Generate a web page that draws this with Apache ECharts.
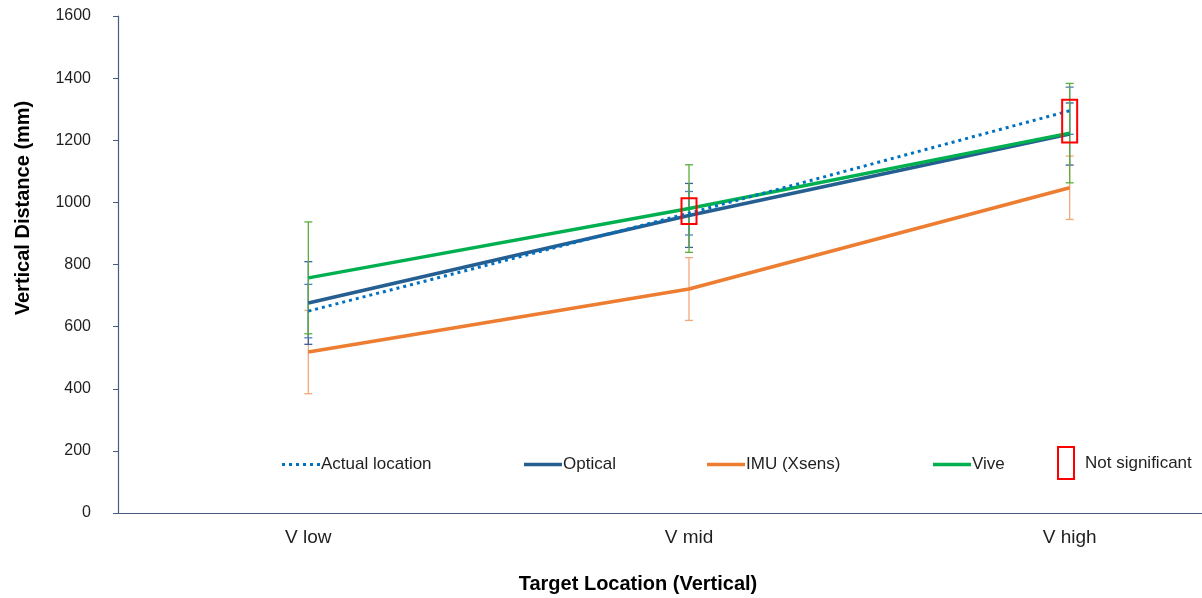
<!DOCTYPE html>
<html>
<head>
<meta charset="utf-8">
<script src="https://cdn.jsdelivr.net/npm/echarts@6/dist/echarts.min.js"></script>
<style>
  html, body { margin: 0; padding: 0; background: #fff; }
  #chart { width: 1202px; height: 598px; }
</style>
</head>
<body>
<div id="chart"></div>
<script>
// Target locations on the x axis
const categories = ['V low', 'V mid', 'V high'];

// Mean vertical distance (mm) per measurement system
const actualLocation = [650, 965, 1295];
const optical = [676, 958, 1220];
const imuXsens = [518, 721, 1047];
const vive = [757, 980, 1223];

// Standard deviation (mm) used for the error bars
const actualSD = [86, 70, 76];
const opticalSD = [133, 103, 100];
const imuSD = [134, 101, 102];
const viveSD = [180, 141, 160];

// Ranges marked as not significant: [category index, low, high]
const notSignificant = [[1, 930, 1013], [2, 1193, 1330]];

// Y axis ticks
const yMin = 0, yMax = 1600, yStep = 200;

const FONT = '"Liberation Sans", Arial, sans-serif';
const AXIS_COLOR = '#4a5b80';
const TEXT_COLOR = '#1f1f1f';

const COLORS = {
  actual: '#0070c0',
  optical: '#255e91',
  imu: '#ed7d31',
  vive: '#00b050'
};
const ERR_COLORS = {
  actual: '#4f7fc0',
  optical: '#3f5f96',
  imu: '#f4a77a',
  vive: '#5aae3c'
};

// Legend swatches: a solid bar and a row of dots
const SOLID_ICON = 'path://M0,0H38V4H0Z';
const DOTTED_ICON = 'path://M0,0h3v3h-3zM7,0h3v3h-3zM14,0h3v3h-3zM21,0h3v3h-3zM28,0h3v3h-3zM35,0h3v3h-3z';

function errorBars(id, means, sds, color, z) {
  return {
    type: 'custom',
    id: id,
    z: z,
    silent: true,
    data: means.map((m, i) => [i, m - sds[i], m + sds[i]]),
    encode: { x: 0, y: [1, 2] },
    renderItem(params, api) {
      const lo = api.coord([api.value(0), api.value(1)]);
      const hi = api.coord([api.value(0), api.value(2)]);
      const hw = 4;
      const style = { stroke: color, lineWidth: 1.3, fill: null };
      return {
        type: 'group',
        children: [
          { type: 'line', shape: { x1: lo[0], y1: lo[1], x2: hi[0], y2: hi[1] }, style },
          { type: 'line', shape: { x1: lo[0] - hw, y1: lo[1], x2: lo[0] + hw, y2: lo[1] }, style },
          { type: 'line', shape: { x1: hi[0] - hw, y1: hi[1], x2: hi[0] + hw, y2: hi[1] }, style }
        ]
      };
    }
  };
}

function lineSeries(name, data, color, z, dotted) {
  return {
    type: 'line',
    name: name,
    data: data,
    z: z,
    symbol: 'none',
    silent: true,
    lineStyle: {
      color: color,
      width: dotted ? 3 : 3.5,
      type: dotted ? [3, 4] : 'solid',
      cap: 'butt'
    },
    itemStyle: { color: color }
  };
}

function legendAt(name, left, top, extra) {
  return Object.assign({
    data: [name],
    left: left,
    top: top,
    padding: 0,
    itemWidth: 38,
    itemHeight: 3.5,
    icon: SOLID_ICON,
    symbolKeepAspect: false,
    selectedMode: false,
    textStyle: { fontSize: 17, color: TEXT_COLOR, fontFamily: FONT, padding: [0, 0, 0, -4] }
  }, extra || {});
}

const chart = echarts.init(document.getElementById('chart'), null, { renderer: 'canvas' });

chart.setOption({
  animation: false,
  backgroundColor: '#ffffff',
  grid: { left: 118, top: 16, right: -58, height: 497, containLabel: false, outerBoundsMode: 'none' },
  xAxis: {
    type: 'category',
    data: categories,
    boundaryGap: true,
    axisLine: { show: true, lineStyle: { color: AXIS_COLOR, width: 1.2 } },
    axisTick: { show: false },
    axisLabel: { fontSize: 19, color: TEXT_COLOR, fontFamily: FONT, margin: 15 },
    splitLine: { show: false }
  },
  yAxis: {
    type: 'value',
    min: yMin,
    max: yMax,
    interval: yStep,
    axisLine: { show: true, lineStyle: { color: AXIS_COLOR, width: 1.2 } },
    axisTick: { show: true, inside: false, length: 5, lineStyle: { color: AXIS_COLOR } },
    axisLabel: {
      fontSize: 16, color: TEXT_COLOR, fontFamily: FONT, margin: 27,
      formatter: (v) => String(v)
    },
    splitLine: { show: false }
  },
  legend: [
    legendAt('Actual location', 282, 456, { icon: DOTTED_ICON, itemHeight: 3 }),
    legendAt('Optical', 524, 456),
    legendAt('IMU (Xsens)', 707, 456),
    legendAt('Vive', 933, 456),
    legendAt('Not significant', 1057, 446, {
      itemWidth: 16,
      itemHeight: 32,
      icon: 'rect',
      itemStyle: { color: 'rgba(0,0,0,0)', borderColor: '#ff0000', borderWidth: 2 },
      textStyle: { fontSize: 17, color: TEXT_COLOR, fontFamily: FONT, padding: [0, 0, 8, 6] }
    })
  ],
  graphic: [
    {
      type: 'text',
      x: 638,
      y: 584,
      silent: true,
      style: {
        text: 'Target Location (Vertical)',
        fontSize: 20,
        fontWeight: 'bold',
        fontFamily: FONT,
        fill: '#000',
        align: 'center',
        verticalAlign: 'middle'
      }
    },
    {
      type: 'text',
      x: 23,
      y: 208,
      rotation: Math.PI / 2,
      silent: true,
      style: {
        text: 'Vertical Distance (mm)',
        fontSize: 20,
        fontWeight: 'bold',
        fontFamily: FONT,
        fill: '#000',
        align: 'center',
        verticalAlign: 'middle'
      }
    }
  ],
  series: [
    errorBars('err-imu', imuXsens, imuSD, ERR_COLORS.imu, 1),
    errorBars('err-optical', optical, opticalSD, ERR_COLORS.optical, 2),
    errorBars('err-actual', actualLocation, actualSD, ERR_COLORS.actual, 2),
    errorBars('err-vive', vive, viveSD, ERR_COLORS.vive, 3),
    lineSeries('Optical', optical, COLORS.optical, 5, false),
    lineSeries('IMU (Xsens)', imuXsens, COLORS.imu, 5, false),
    lineSeries('Vive', vive, COLORS.vive, 6, false),
    lineSeries('Actual location', actualLocation, COLORS.actual, 7, true),
    {
      type: 'custom',
      name: 'Not significant',
      z: 10,
      silent: true,
      data: notSignificant,
      encode: { x: 0, y: [1, 2] },
      itemStyle: { color: '#ff0000' },
      renderItem(params, api) {
        const lo = api.coord([api.value(0), api.value(1)]);
        const hi = api.coord([api.value(0), api.value(2)]);
        return {
          type: 'rect',
          shape: { x: lo[0] - 7.5, y: hi[1], width: 15, height: lo[1] - hi[1] },
          style: { fill: null, stroke: '#ff0000', lineWidth: 2 }
        };
      }
    }
  ]
});
</script>
</body>
</html>
